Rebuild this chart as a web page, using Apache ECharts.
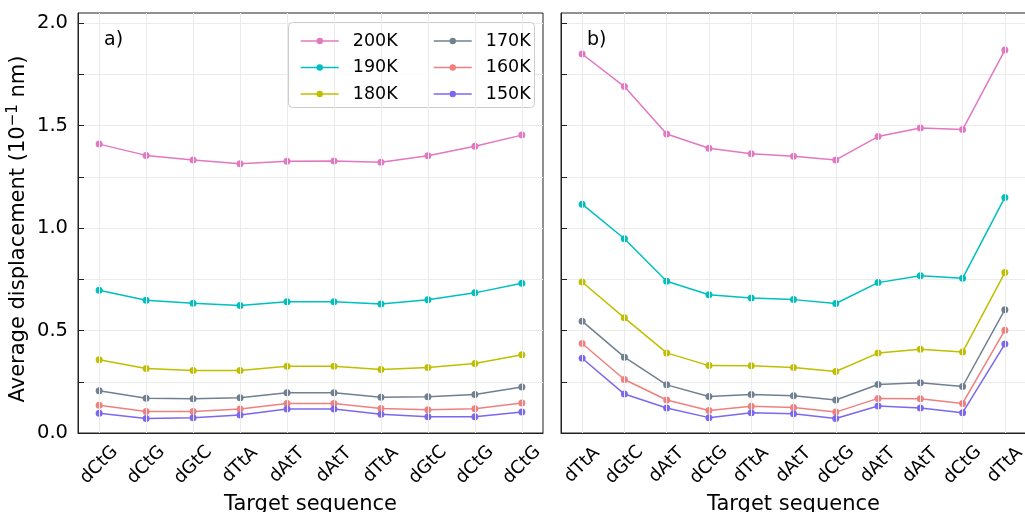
<!DOCTYPE html>
<html>
<head>
<meta charset="utf-8">
<script src="https://cdn.jsdelivr.net/npm/echarts@6/dist/echarts.min.js"></script>
<style>
  html, body { margin: 0; padding: 0; background: #fff; }
  #chart { width: 1025px; height: 512px; }
</style>
</head>
<body>
<div id="chart"></div>
<script>
// Target sequences on each panel
const catsA = ['dCtG', 'dCtG', 'dGtC', 'dTtA', 'dAtT', 'dAtT', 'dTtA', 'dGtC', 'dCtG', 'dCtG'];
const catsB = ['dTtA', 'dGtC', 'dAtT', 'dCtG', 'dTtA', 'dAtT', 'dCtG', 'dAtT', 'dAtT', 'dCtG', 'dTtA'];

// Temperatures (legend labels)
const temps = ['200K', '190K', '180K', '170K', '160K', '150K'];

// Panel a) average displacement (10^-1 nm)
const a200 = [1.410, 1.355, 1.332, 1.314, 1.327, 1.328, 1.322, 1.353, 1.400, 1.454];
const a190 = [0.697, 0.648, 0.633, 0.622, 0.641, 0.641, 0.630, 0.650, 0.684, 0.731];
const a180 = [0.357, 0.315, 0.305, 0.305, 0.326, 0.326, 0.310, 0.320, 0.339, 0.382];
const a170 = [0.206, 0.170, 0.167, 0.172, 0.196, 0.196, 0.175, 0.177, 0.188, 0.224];
const a160 = [0.135, 0.105, 0.105, 0.117, 0.144, 0.144, 0.120, 0.114, 0.118, 0.146];
const a150 = [0.096, 0.071, 0.075, 0.088, 0.117, 0.117, 0.091, 0.079, 0.079, 0.102];

// Panel b) average displacement (10^-1 nm)
const b200 = [1.850, 1.691, 1.459, 1.390, 1.363, 1.351, 1.333, 1.447, 1.489, 1.481, 1.869];
const b190 = [1.117, 0.948, 0.741, 0.675, 0.659, 0.651, 0.632, 0.734, 0.767, 0.755, 1.150];
const b180 = [0.737, 0.562, 0.391, 0.329, 0.328, 0.320, 0.300, 0.390, 0.409, 0.395, 0.783];
const b170 = [0.546, 0.370, 0.235, 0.178, 0.188, 0.182, 0.161, 0.237, 0.245, 0.227, 0.602];
const b160 = [0.437, 0.261, 0.161, 0.110, 0.130, 0.125, 0.102, 0.169, 0.167, 0.144, 0.502];
const b150 = [0.365, 0.190, 0.122, 0.075, 0.099, 0.094, 0.071, 0.132, 0.122, 0.099, 0.434];

// Y tick values
const yMajor = [0, 0.5, 1.0, 1.5, 2.0];
const yMinor = [0, 0.25, 0.5, 0.75, 1.0, 1.25, 1.5, 1.75, 2.0];

const colors = ['#e377c2', '#00bfbf', '#bfbf00', '#708090', '#f08080', '#7b68ee'];
const seriesA = [a200, a190, a180, a170, a160, a150];
const seriesB = [b200, b190, b180, b170, b160, b150];

const FONT = 'DejaVu Sans';
const GRID_COLOR = '#ebebeb';
const AXIS_COLOR = '#222';

function xAxisFor(idx, cats, margin) {
  const ticks = cats.map((_, i) => i);
  return {
    type: 'value', gridIndex: idx,
    min: -margin, max: cats.length - 1 + margin,
    name: 'Target sequence', nameLocation: 'middle', nameGap: 58,
    nameTextStyle: { fontFamily: FONT, fontSize: 21, color: '#000' },
    axisLine: { show: true, onZero: false, lineStyle: { color: AXIS_COLOR, width: 1 } },
    axisTick: { show: true, inside: true, length: 6, customValues: ticks, lineStyle: { color: AXIS_COLOR } },
    axisLabel: {
      customValues: ticks, rotate: 45, margin: 32,
      align: 'center', verticalAlign: 'middle',
      fontFamily: FONT, fontSize: 18, color: '#000',
      formatter: v => cats[Math.round(v)]
    },
    splitLine: { show: false }
  };
}

function yAxisFor(idx, showLabels) {
  return {
    type: 'value', gridIndex: idx, min: 0, max: 2.05, interval: 0.5,
    name: showLabels ? 'Average displacement (10{sup|\u22121} nm)' : '',
    nameLocation: 'middle', nameGap: 46,
    nameTextStyle: {
      fontFamily: FONT, fontSize: 21, color: '#000', lineHeight: 26,
      padding: [0, 12, 0, 0],
      rich: { sup: { fontFamily: FONT, fontSize: 15, color: '#000', verticalAlign: 'top', lineHeight: 26, padding: [0, 0, 6, 0] } }
    },
    axisLine: { show: true, onZero: false, lineStyle: { color: AXIS_COLOR, width: 1 } },
    axisTick: { show: true, inside: true, length: 6, customValues: yMinor, lineStyle: { color: AXIS_COLOR } },
    axisLabel: {
      show: showLabels, customValues: yMajor, margin: 10,
      fontFamily: FONT, fontSize: 19.5, color: '#000',
      formatter: v => v.toFixed(1)
    },
    splitLine: { show: true, lineStyle: { color: GRID_COLOR, width: 1 } }
  };
}

function buildSeries(gridIdx, values, cats) {
  const out = values.map((arr, k) => ({
    name: temps[k], type: 'line', xAxisIndex: gridIdx, yAxisIndex: gridIdx,
    data: arr.map((v, i) => [i, v]),
    symbol: 'circle', symbolSize: 7, showSymbol: true,
    lineStyle: { color: colors[k], width: 1.5 },
    itemStyle: { color: colors[k], borderWidth: 0 },
    emphasis: { disabled: true },
    z: 3, animation: false
  }));
  // vertical grid lines at each category position
  out.push({
    name: 'vgrid' + gridIdx, type: 'line', xAxisIndex: gridIdx, yAxisIndex: gridIdx,
    data: [], z: 1, animation: false, silent: true,
    markLine: {
      silent: true, symbol: 'none', label: { show: false },
      lineStyle: { color: GRID_COLOR, type: 'solid', width: 1 },
      data: cats.map((_, i) => ({ xAxis: i }))
    }
  });
  return out;
}

const chart = echarts.init(document.getElementById('chart'), null, { renderer: 'canvas' });

const legendCommon = {
  orient: 'vertical', itemWidth: 38, itemHeight: 8, itemGap: 8.5,
  textStyle: { fontFamily: FONT, fontSize: 17.5, color: '#000', lineHeight: 18, padding: [0, 0, 0, 9] },
  itemStyle: { borderWidth: 0 },
  lineStyle: { width: 1.5 },
  z: 6
};

chart.setOption({
  backgroundColor: '#fff',
  animation: false,
  grid: [
    { left: 78, right: 482, top: 13, bottom: 79, outerBoundsMode: 'none', containLabel: false, show: true, borderColor: AXIS_COLOR, borderWidth: 1, backgroundColor: 'transparent' },
    { left: 561, right: -1, top: 13, bottom: 79, outerBoundsMode: 'none', containLabel: false, show: true, borderColor: AXIS_COLOR, borderWidth: 1, backgroundColor: 'transparent' }
  ],
  xAxis: [xAxisFor(0, catsA, 0.45), xAxisFor(1, catsB, 0.5)],
  yAxis: [yAxisFor(0, true), yAxisFor(1, false)],
  legend: [
    Object.assign({ left: 295, top: 27, data: temps.slice(0, 3) }, legendCommon),
    Object.assign({ left: 428, top: 27, data: temps.slice(3) }, legendCommon)
  ],
  graphic: [
    {
      type: 'rect', z: 5, left: 288, top: 22,
      shape: { width: 246, height: 85, r: 4 },
      style: { fill: 'rgba(255,255,255,0.85)', stroke: '#cccccc', lineWidth: 1 }
    },
    { type: 'text', z: 6, left: 104, top: 31, style: { text: 'a)', fontFamily: FONT, fontSize: 19, fill: '#000' } },
    { type: 'text', z: 6, left: 587, top: 31, style: { text: 'b)', fontFamily: FONT, fontSize: 19, fill: '#000' } }
  ],
  series: buildSeries(0, seriesA, catsA).concat(buildSeries(1, seriesB, catsB))
});
</script>
</body>
</html>
